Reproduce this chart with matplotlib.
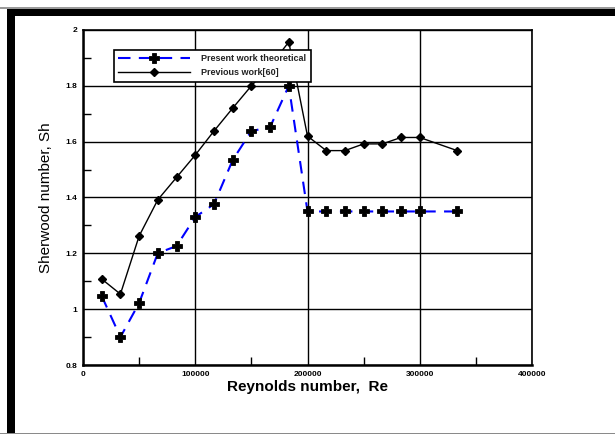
import numpy as np
import matplotlib

matplotlib.use("Agg")
import matplotlib.pyplot as plt
from matplotlib.patches import Rectangle
from matplotlib.ticker import MultipleLocator

# Reynolds numbers (x) and Sherwood numbers (y)
re_vals = [16667, 33333, 50000, 66667, 83333, 100000, 116667, 133333, 150000,
           166667, 183333, 200000, 216667, 233333, 250000, 266667, 283333,
           300000, 333333]
sh_present = [1.047, 0.900, 1.022, 1.201, 1.226, 1.330, 1.376, 1.534, 1.638,
              1.652, 1.800, 1.350, 1.350, 1.350, 1.350, 1.350, 1.350, 1.350,
              1.350]
sh_previous = [1.108, 1.054, 1.262, 1.392, 1.472, 1.552, 1.638, 1.720, 1.800,
               1.871, 1.957, 1.620, 1.568, 1.568, 1.592, 1.592, 1.615, 1.615,
               1.568]

x_ticks = [0, 100000, 200000, 300000, 400000]
y_ticks = [0.8, 1.0, 1.2, 1.4, 1.6, 1.8, 2.0]
y_tick_labels = ["0.8", "1", "1.2", "1.4", "1.6", "1.8", "2"]

plt.rcParams["font.family"] = ["Liberation Sans", "DejaVu Sans"]

fig = plt.figure(figsize=(6.15, 4.34), dpi=100)
W, H = 615, 434

# frame decoration around the figure
def px_rect(x0, y0, x1, y1, color):
    fig.patches.append(Rectangle((x0 / W, 1 - y1 / H), (x1 - x0) / W,
                                 (y1 - y0) / H, transform=fig.transFigure,
                                 facecolor=color, edgecolor="none", zorder=0))

px_rect(0, 7, W, 8.5, "#9a9a9a")
px_rect(7, 8.5, W, 16, "black")
px_rect(7, 8.5, 15, 433, "black")
px_rect(0, 432.5, W, 434, "#8a8a8a")

ax = fig.add_axes([83 / W, 1 - 365 / H, (532 - 83) / W, (365 - 30) / H])

ax.plot(re_vals, sh_present, color="blue", linestyle=(0, (6, 4)),
        linewidth=1.5, marker="P", markersize=7, markerfacecolor="black",
        markeredgecolor="black", markeredgewidth=0.6,
        label="Present work theoretical", zorder=3)
ax.plot(re_vals, sh_previous, color="black", linewidth=1.0, marker="D",
        markersize=4.5, markerfacecolor="black", markeredgecolor="black",
        label="Previous work[60]", zorder=3)

ax.set_xlim(0, 400000)
ax.set_ylim(0.8, 2.0)
ax.set_xticks(x_ticks, [str(v) for v in x_ticks])
ax.set_yticks(y_ticks, y_tick_labels)
ax.xaxis.set_minor_locator(MultipleLocator(50000))
ax.yaxis.set_minor_locator(MultipleLocator(0.1))
ax.grid(True, which="major", color="black", linewidth=1.0)
ax.tick_params(which="major", length=0, labelsize=6, pad=4)
ax.tick_params(which="minor", direction="in", length=6, width=1.0,
               color="black")
for lbl in ax.get_xticklabels() + ax.get_yticklabels():
    lbl.set_fontweight("bold")
for side in ["left", "bottom"]:
    ax.spines[side].set_linewidth(1.8)
for side in ["top", "right"]:
    ax.spines[side].set_linewidth(1.2)

ax.set_xlabel("Reynolds number,  Re", fontsize=11, fontweight="bold",
              labelpad=2)
ax.set_ylabel("Sherwood number, Sh", fontsize=11, labelpad=9)

leg = ax.legend(loc="upper left", bbox_to_anchor=(26 / 449, 1 - 15 / 335),
                fontsize=6.5, frameon=True, fancybox=False, framealpha=1,
                edgecolor="black", handlelength=8, borderpad=0.5,
                labelspacing=0.6, handletextpad=1.2)
leg.get_frame().set_linewidth(1.2)
for t in leg.get_texts():
    t.set_fontweight("bold")
    t.set_color("#222222")

fig.savefig("out.png", dpi=100)
